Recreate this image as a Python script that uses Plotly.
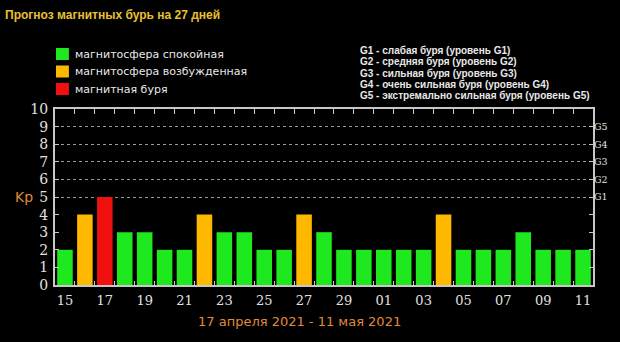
import plotly.graph_objects as go

# ---- data ----
TITLE = "Прогноз магнитных бурь на 27 дней"
DAYS = ["15", "16", "17", "18", "19", "20", "21", "22", "23", "24", "25", "26", "27", "28",
        "29", "30", "01", "02", "03", "04", "05", "06", "07", "08", "09", "10", "11"]
KP = [2, 4, 5, 3, 3, 2, 2, 4, 3, 3, 2, 2, 4, 3,
      2, 2, 2, 2, 2, 4, 2, 2, 2, 3, 2, 2, 2]
STATUS_NAMES = ["магнитосфера спокойная", "магнитосфера возбужденная", "магнитная буря"]
STATUS_COLORS = ["#1ee81e", "#ffb800", "#f01010"]
G_LEVELS = ["G1", "G2", "G3", "G4", "G5"]
G_KP = [5, 6, 7, 8, 9]
G_TEXT = ["G1 - слабая буря (уровень G1)",
          "G2 - средняя буря (уровень G2)",
          "G3 - сильная буря (уровень G3)",
          "G4 - очень сильная буря (уровень G4)",
          "G5 - экстремально сильная буря (уровень G5)"]
DATE_RANGE = "17 апреля 2021 - 11 мая 2021"
Y_LABEL = "Kp"


def status(v):
    if v >= 5:
        return 2
    if v >= 4:
        return 1
    return 0


W, H = 620, 342
L, R, T, B = 55, 23, 109, 57
ph = H - T - B
pw = W - L - R


def py(pix):
    return (H - B - pix) / ph


def px(pix):
    return (pix - L) / pw


fig = go.Figure()
idx = list(range(len(DAYS)))
for s, (name, col) in enumerate(zip(STATUS_NAMES, STATUS_COLORS)):
    xs = [i for i in idx if status(KP[i]) == s]
    ys = [KP[i] for i in idx if status(KP[i]) == s]
    fig.add_trace(go.Bar(x=xs, y=ys, name=name, marker=dict(color=col, line=dict(width=0)),
                         width=0.78, showlegend=False))

frame = "#c8c8c8"
tick_font = dict(family="DejaVu Serif", size=14, color="#e0e0e0")
bounds = [i + 0.5 for i in idx[:-1]]

fig.update_layout(
    width=W, height=H,
    margin=dict(l=L, r=R, t=T, b=B),
    paper_bgcolor="#000000", plot_bgcolor="#000000",
    barmode="overlay",
    showlegend=False,
    xaxis=dict(range=[-0.5, len(DAYS) - 0.5],
               tickvals=idx[::2], ticktext=DAYS[::2], ticks="",
               tickfont=dict(family="DejaVu Serif", size=13, color="#e0e0e0"),
               ticklabelstandoff=2,
               showgrid=False, zeroline=False,
               showline=True, linecolor=frame, linewidth=2, mirror=True,
               minor=dict(tickvals=bounds, ticks="inside",
                          ticklen=4, tickcolor=frame, tickwidth=1, showgrid=False)),
    xaxis2=dict(range=[-0.5, len(DAYS) - 0.5], overlaying="x", side="top",
                tickvals=bounds, ticks="inside", ticklen=5, tickcolor=frame,
                showticklabels=False, showgrid=False, zeroline=False, showline=False),
    yaxis=dict(range=[0, 10], tickvals=list(range(11)), ticks="inside", ticklen=4,
               tickcolor=frame, tickfont=tick_font, showgrid=False, zeroline=False,
               showline=True, linecolor=frame, linewidth=2, mirror=True,
               ticklabelstandoff=2),
    yaxis2=dict(range=[0, 10], overlaying="y", side="right",
                tickvals=list(range(1, 10)),
                ticktext=["", "", "", ""] + G_LEVELS,
                ticks="inside", ticklen=4, tickcolor=frame,
                tickfont=dict(family="DejaVu Serif", size=9.5, color="#e0e0e0"),
                showgrid=False, zeroline=False, showline=False),
    yaxis3=dict(range=[0, 10], overlaying="y", tickvals=G_KP, showticklabels=False,
                ticks="", showgrid=True, gridcolor="#9a9a9a", gridwidth=1, griddash="dot",
                zeroline=False, showline=False, layer="below traces"),
)
fig.add_trace(go.Scatter(x=[0], y=[0], yaxis="y2", mode="markers",
                         marker=dict(opacity=0), showlegend=False, hoverinfo="skip"))
fig.add_trace(go.Scatter(x=[0], y=[0], yaxis="y3", mode="markers",
                         marker=dict(opacity=0), showlegend=False, hoverinfo="skip"))
fig.add_trace(go.Scatter(x=[0], y=[0], xaxis="x2", mode="markers",
                         marker=dict(opacity=0), showlegend=False, hoverinfo="skip"))

ann = []
shapes = []
ann.append(dict(text="<b>" + TITLE + "</b>", x=px(3), y=py(15), xref="paper", yref="paper",
                xanchor="left", yanchor="middle", showarrow=False,
                font=dict(family="Liberation Sans", size=12, color="#e8c030")))
# manual legend
for k, (name, col) in enumerate(zip(STATUS_NAMES, STATUS_COLORS)):
    yc = 54 + k * 17.5
    shapes.append(dict(type="rect", xref="paper", yref="paper",
                       x0=px(56), x1=px(69), y0=py(yc - 6), y1=py(yc + 6),
                       fillcolor=col, line=dict(width=0)))
    ann.append(dict(text=name, x=px(73), y=py(yc), xref="paper", yref="paper",
                    xanchor="left", yanchor="middle", showarrow=False,
                    font=dict(family="DejaVu Sans", size=11, color="#e8e8e8")))
for k, line in enumerate(G_TEXT):
    ann.append(dict(text="<b>" + line + "</b>", x=px(360), y=py(50 + k * 11.5),
                    xref="paper", yref="paper", xanchor="left", yanchor="middle",
                    showarrow=False,
                    font=dict(family="Liberation Sans", size=10, color="#e8e8e8")))
ann.append(dict(text=Y_LABEL, x=px(13), y=py(197), xref="paper", yref="paper",
                xanchor="left", yanchor="middle", showarrow=False,
                font=dict(family="DejaVu Sans", size=14, color="#e08a3c")))
ann.append(dict(text=DATE_RANGE, x=px(301), y=py(321), xref="paper", yref="paper",
                xanchor="center", yanchor="middle", showarrow=False,
                font=dict(family="DejaVu Sans", size=13, color="#e08a3c")))
fig.update_layout(annotations=ann, shapes=shapes)

fig.write_html("out.html")
